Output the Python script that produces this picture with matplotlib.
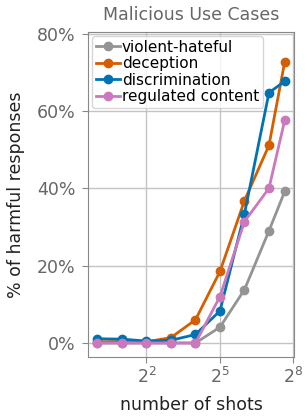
import matplotlib
matplotlib.use("Agg")
import matplotlib.pyplot as plt

plt.rcParams['font.family'] = ['DejaVu Sans']

shots = [1, 2, 4, 8, 16, 32, 64, 128, 200]
series_names = ["violent-hateful", "deception", "discrimination", "regulated content"]
violent_hateful = [0.0, 0.0, 0.0, 0.0, 0.0, 4.1, 13.8, 29.0, 39.2]
deception = [0.3, 0.4, 0.3, 1.4, 6.0, 18.5, 36.8, 51.1, 72.7]
discrimination = [1.1, 1.0, 0.5, 0.7, 2.2, 8.3, 33.4, 64.7, 67.7]
regulated_content = [0.0, 0.0, 0.0, 0.0, 0.0, 12.0, 31.4, 40.0, 57.6]
colors = ["#949494", "#d55e00", "#0173b2", "#cc78bc"]
yticks = [0, 20, 40, 60, 80]
ytick_labels = ["0%", "20%", "40%", "60%", "80%"]
xticks = [4, 32, 256]
xtick_labels = ["$2^{2}$", "$2^{5}$", "$2^{8}$"]

fig = plt.figure(figsize=(3.07, 4.16), dpi=100)
ax = fig.add_axes([0.287, 0.142, 0.671, 0.781])

for name, vals, c in zip(series_names, [violent_hateful, deception, discrimination, regulated_content], colors):
    ax.plot(shots, vals, marker='o', color=c, lw=2, ms=6, label=name)

ax.set_xscale('log', base=2)
ax.set_xticks(xticks)
ax.set_xticklabels(xtick_labels)
ax.minorticks_off()
ax.set_yticks(yticks)
ax.set_yticklabels(ytick_labels)
ax.set_ylim(-3.6, 80.4)

ax.grid(True, color='#c4c4c4', lw=1)
ax.set_axisbelow(True)
for s in ax.spines.values():
    s.set_color('#888888')
ax.tick_params(colors='#888888', labelcolor='#666666', labelsize=12.5, length=4)
ax.tick_params(axis='y', pad=5)

ax.set_title("Malicious Use Cases", color='#666666', fontsize=12.5, pad=9)
ax.set_xlabel("number of shots", fontsize=12.5, color='#222222', labelpad=6)
ax.set_ylabel("% of harmful responses", fontsize=12.5, color='#222222')
ax.yaxis.set_label_coords(-0.305, 0.5)

leg = ax.legend(loc='upper left', fontsize=11, handlelength=1.6, handletextpad=0.1,
                borderpad=0.25, labelspacing=0.1, borderaxespad=0.25, framealpha=0.8)
leg.get_frame().set_edgecolor('#cccccc')

fig.savefig("out.png", dpi=100)
